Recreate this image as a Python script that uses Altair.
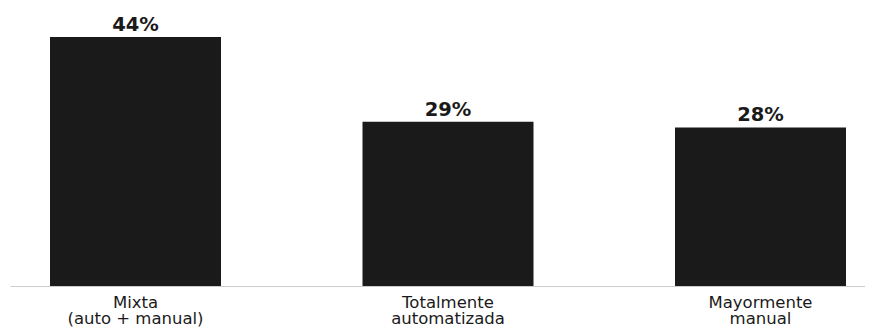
import altair as alt
import pandas as pd

categories = ["Mixta\n(auto + manual)", "Totalmente\nautomatizada", "Mayormente\nmanual"]
values = [44, 29, 28]
labels = ["44%", "29%", "28%"]

df = pd.DataFrame({"cat": categories, "val": values, "lab": labels})

x = alt.X("cat:N", sort=None, title=None,
          scale=alt.Scale(paddingInner=0.4528, paddingOuter=0.0944, align=0.678),
          axis=alt.Axis(labelAngle=0, labelExpr="split(datum.label, '\\n')",
                        labelFont="DejaVu Sans", labelFontSize=16.5, labelColor="#1a1a1a",
                        labelLineHeight=16.5, labelPadding=8, ticks=False,
                        domainColor="#cccccc", domainWidth=1.2, grid=False))
y = alt.Y("val:Q", scale=alt.Scale(domain=[0, 49.1], nice=False, zero=True), axis=None)

bars = alt.Chart(df).mark_bar(color="#1a1a1a").encode(x=x, y=y)
text = alt.Chart(df).mark_text(font="DejaVu Sans", fontSize=19.5, fontWeight="bold",
                               color="#1a1a1a", dy=-6, baseline="alphabetic").encode(
    x=alt.X("cat:N", sort=None), y="val:Q", text="lab:N")

chart = (bars + text).properties(
    width=855, height=278,
    autosize=alt.AutoSizeParams(type="none"),
    padding={"left": 2, "top": 0, "right": 0, "bottom": 41},
).configure_view(stroke=None)

chart.save("out.html", embed_options={"renderer": "svg", "actions": False})
